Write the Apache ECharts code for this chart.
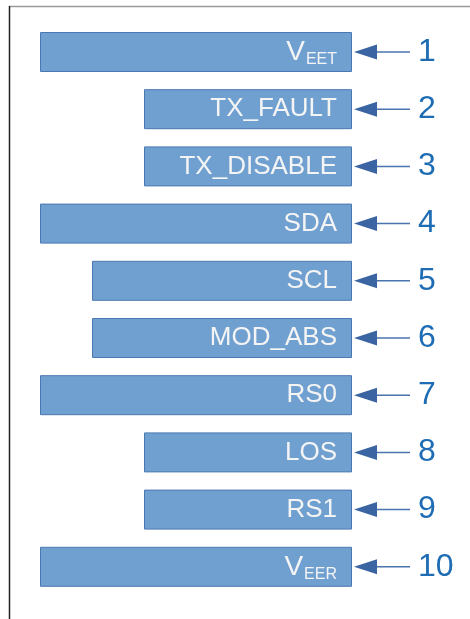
<!DOCTYPE html>
<html><head><meta charset="utf-8">
<script src="https://cdn.jsdelivr.net/npm/echarts@6/dist/echarts.min.js"></script>
<style>html,body{margin:0;padding:0;background:#fff}#c{width:470px;height:619px}</style>
</head><body><div id="c"></div>
<script>
const pins = ['1','2','3','4','5','6','7','8','9','10'];
const mainLabels = ['V','TX_FAULT','TX_DISABLE','SDA','SCL','MOD_ABS','RS0','LOS','RS1','V'];
const subLabels = ['EET','','','','','','','','','EER'];
const starts = [0,2,2,0,1,1,0,2,2,0];
const ends = [6,6,6,6,6,6,6,6,6,6];

const chart = echarts.init(document.getElementById('c'));
const lengths = ends.map((e,i)=>e-starts[i]);
chart.setOption({
  animation:false,
  grid:{left:40,right:118,top:23.4,height:572},
  xAxis:{type:'value',min:0,max:6,show:false},
  yAxis:{type:'category',data:pins,inverse:true,position:'right',
    axisLine:{show:false},axisTick:{show:false},splitLine:{show:false},
    axisLabel:{margin:66,color:'#1e6db4',fontSize:32,fontFamily:'"Liberation Sans Narrow","Liberation Sans",Arial,sans-serif',align:'left'}},
  graphic:[
    {type:'line',shape:{x1:9,y1:6.5,x2:470,y2:6.5},style:{stroke:'#9a9a9a',lineWidth:1.5},silent:true},
    {type:'line',shape:{x1:9.5,y1:6,x2:9.5,y2:619},style:{stroke:'#222',lineWidth:1.5},silent:true}
  ],
  series:[
    {type:'bar',stack:'s',data:starts,barWidth:40,itemStyle:{color:'transparent'},silent:true},
    {type:'bar',stack:'s',data:lengths,barWidth:40,
      itemStyle:{color:'#70a0d0',borderColor:'#4a78b2',borderWidth:1},
      label:{show:true,position:'insideRight',distance:15,color:'#f4f4f4',
        fontFamily:'"Liberation Sans",Arial,sans-serif',fontSize:26,
        formatter:p=>{const i=p.dataIndex;return subLabels[i]?'{b|'+mainLabels[i]+'}{s|'+subLabels[i]+'}':'{v|'+mainLabels[i]+'}';},
        rich:{v:{fontSize:26,color:'#f4f4f4',fontFamily:'"Liberation Sans",Arial,sans-serif'},
              b:{fontSize:28,color:'#f4f4f4',fontFamily:'"Liberation Sans",Arial,sans-serif'},
              s:{fontSize:16,color:'#f4f4f4',fontFamily:'"Liberation Sans",Arial,sans-serif',padding:[16,0,0,1]}}}},
    {type:'custom',data:ends.map((e,i)=>[e,i]),clip:false,silent:true,
      renderItem:(params,api)=>{
        const p=api.coord([api.value(0),api.value(1)]);
        return {type:'group',children:[
          {type:'line',shape:{x1:p[0]+24,y1:p[1],x2:p[0]+58,y2:p[1]},style:{stroke:'#4a74ab',lineWidth:1.5}},
          {type:'polygon',shape:{points:[[p[0]+2,p[1]],[p[0]+25,p[1]-7.5],[p[0]+25,p[1]+7.5]]},style:{fill:'#3a64a2'}}
        ]};
      }}
  ]
});
</script></body></html>
